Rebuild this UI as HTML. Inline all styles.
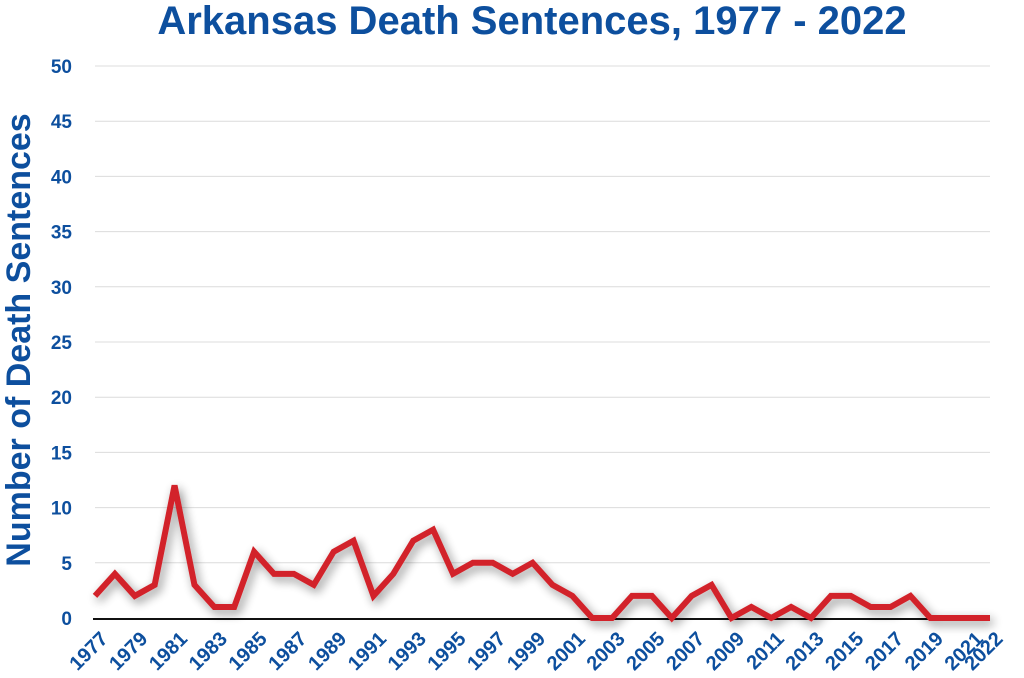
<!DOCTYPE html>
<html><head><meta charset="utf-8"><style>
body{margin:0;background:#fff;}
svg{display:block;font-family:"Liberation Sans",sans-serif;}
</style></head><body>
<svg id="chart" width="1024" height="678">
<defs><filter id="sh" x="-10%" y="-30%" width="120%" height="160%"><feGaussianBlur in="SourceAlpha" stdDeviation="5"/><feOffset dx="3" dy="4"/><feComponentTransfer><feFuncA type="linear" slope="0.45"/></feComponentTransfer><feMerge><feMergeNode/><feMergeNode in="SourceGraphic"/></feMerge></filter></defs>
<text x="532" y="34" text-anchor="middle" font-size="40" font-weight="bold" fill="#0d4f9e">Arkansas Death Sentences, 1977 - 2022</text>
<text transform="translate(30,340) rotate(-90)" text-anchor="middle" font-size="34" font-weight="bold" fill="#0d4f9e">Number of Death Sentences</text>
<g id="grid"></g><g id="ylab"></g><g id="xlab"></g><g id="series"></g>
</svg>
<script>
const years=[1977,1978,1979,1980,1981,1982,1983,1984,1985,1986,1987,1988,1989,1990,1991,1992,1993,1994,1995,1996,1997,1998,1999,2000,2001,2002,2003,2004,2005,2006,2007,2008,2009,2010,2011,2012,2013,2014,2015,2016,2017,2018,2019,2020,2021,2022];
const sentences=[2,4,2,3,12,3,1,1,6,4,4,3,6,7,2,4,7,8,4,5,5,4,5,3,2,0,0,2,2,0,2,3,0,1,0,1,0,2,2,1,1,2,0,0,0,0];
const yTicks=[0,5,10,15,20,25,30,35,40,45,50];
const xLabels=[1977,1979,1981,1983,1985,1987,1989,1991,1993,1995,1997,1999,2001,2003,2005,2007,2009,2011,2013,2015,2017,2019,2021,2022];
const NS="http://www.w3.org/2000/svg";
const x0=95,x1=990,y0=618,y1=66;
const xs=v=>x0+(v-1977)/(2022-1977)*(x1-x0);
const ys=v=>y0-v/50*(y0-y1);
function mk(t,a,p){const e=document.createElementNS(NS,t);for(const k in a)e.setAttribute(k,a[k]);p.appendChild(e);return e;}
const g=document.getElementById('grid'),yl=document.getElementById('ylab'),xl=document.getElementById('xlab'),s=document.getElementById('series');
yTicks.forEach(v=>{
 if(v>0){const l=mk('line',{x1:x0,x2:x1,y1:ys(v),y2:ys(v),stroke:'#dcdcdc','stroke-width':1},g);
 }
 const t=mk('text',{x:72,y:ys(v)+7,'text-anchor':'end','font-size':19,'font-weight':'bold',fill:'#0d4f9e'},yl);
 t.textContent=v;
});
const base=mk('line',{x1:x0-2,x2:x1,y1:y0+1,y2:y0+1,stroke:'#111','stroke-width':2},g);

xLabels.forEach(v=>{
 const t=mk('text',{transform:`translate(${xs(v)+14},${y0+22}) rotate(-45)`,'text-anchor':'end','font-size':20,'font-weight':'bold',fill:'#0d4f9e'},xl);
 t.textContent=v;
});
const pts=years.map((y,i)=>xs(y)+','+ys(sentences[i])).join(' ');
const pl=mk('polyline',{points:pts,fill:'none',stroke:'#d2232a','stroke-width':6,'stroke-linejoin':'miter','stroke-miterlimit':3,filter:'url(#sh)'},s);

</script>
</body></html>
